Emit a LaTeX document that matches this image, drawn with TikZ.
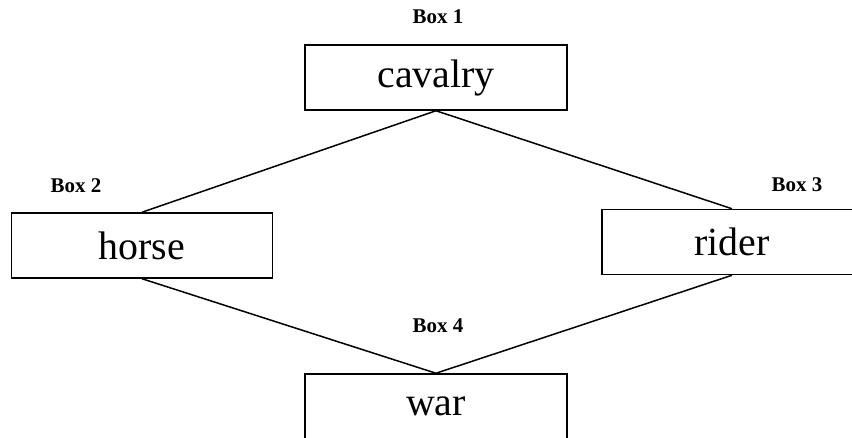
\documentclass[tikz,border=0pt]{standalone}
\usepackage{fontspec}
\setmainfont{Liberation Serif}
\usetikzlibrary{positioning}
\tikzset{
    wordBox/.style={rectangle, draw, line width=1.5bp, inner sep=0pt, minimum width=262bp, minimum height=65bp, font=\fontsize{40}{40}\selectfont},
    boxTag/.style={inner sep=0pt, font=\bfseries\fontsize{21}{21}\selectfont},
    wordLink/.style={line width=1.5bp},
}

\begin{document}
\begin{tikzpicture}[x=1bp, y=1bp]
        \useasboundingbox (0, 0) rectangle (852, 438);
        \clip (0, 0) rectangle (852, 438);

        \node[wordBox] (cav) at (436, 360.5) {cavalry};
        \node[wordBox, minimum width=261bp] (hor) at (142, 192.5) {horse};
        \node[wordBox, minimum width=260bp] (rid) at (732, 196) {rider};
        \node[wordBox] (war) at (436, 31.5) {war};

        \node[boxTag] (tag1) at (438, 421) {Box 1};
        \node[boxTag] (tag2) at (76, 252) {Box 2};
        \node[boxTag] (tag3) at (797, 253) {Box 3};
        \node[boxTag] (tag4) at (438, 112) {Box 4};

        \draw[wordLink] (cav.south) -- (hor.north);
        \draw[wordLink] (cav.south) -- (rid.north);
        \draw[wordLink] (hor.south) -- (war.north);
        \draw[wordLink] (rid.south) -- (war.north);

    \end{tikzpicture}
\end{document}
